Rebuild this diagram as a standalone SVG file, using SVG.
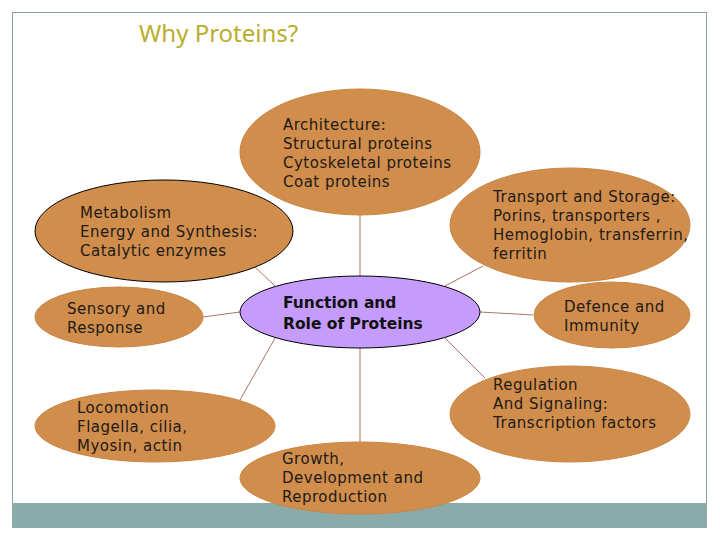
<svg xmlns="http://www.w3.org/2000/svg" width="720" height="540" viewBox="0 0 720 540">
<style>
.n{fill:#d08d4c;stroke:#c98644;stroke-width:1}
.t{font-family:"DejaVu Sans",Verdana,sans-serif;font-size:15px;fill:#1e1a18;letter-spacing:0.5px}
.b{font-family:"DejaVu Sans",Verdana,sans-serif;font-size:15.5px;font-weight:bold;fill:#111}
.c{stroke:#a57766;stroke-width:1;fill:none}
</style>
<rect x="0" y="0" width="720" height="540" fill="#fff"/>
<rect x="12.5" y="12.5" width="694" height="515" fill="#fff" stroke="#8c9ba0" stroke-width="1"/>
<rect x="12" y="503" width="695" height="25" fill="#8aabaa"/>
<text x="139" y="42" font-family="'Noto Sans','DejaVu Sans',sans-serif" font-size="24" fill="#b9ad2b">Why Proteins?</text>
<g id="connectors">
<line class="c" x1="360" y1="215" x2="360" y2="277"/>
<line class="c" x1="275" y1="286" x2="255" y2="267"/>
<line class="c" x1="240" y1="312" x2="203" y2="317"/>
<line class="c" x1="275" y1="338" x2="240" y2="400"/>
<line class="c" x1="360" y1="348" x2="360" y2="442"/>
<line class="c" x1="445" y1="286" x2="483" y2="266"/>
<line class="c" x1="480" y1="312" x2="533" y2="315"/>
<line class="c" x1="445" y1="338" x2="485" y2="378"/>
</g>
<g id="architecture">
<ellipse class="n" cx="360" cy="152" rx="120" ry="63"/>
<text class="t" x="283" y="130">Architecture:</text>
<text class="t" x="283" y="149">Structural proteins</text>
<text class="t" x="283" y="168">Cytoskeletal proteins</text>
<text class="t" x="283" y="187">Coat proteins</text>
</g>
<g id="metabolism">
<ellipse cx="164" cy="231" rx="129" ry="51" fill="#d08d4c" stroke="#000" stroke-width="1"/>
<text class="t" x="80" y="218">Metabolism</text>
<text class="t" x="80" y="237">Energy and Synthesis:</text>
<text class="t" x="80" y="256">Catalytic enzymes</text>
</g>
<g id="sensory">
<ellipse class="n" cx="119" cy="317" rx="84" ry="30"/>
<text class="t" x="67" y="314">Sensory and</text>
<text class="t" x="67" y="333">Response</text>
</g>
<g id="center">
<ellipse cx="360" cy="312" rx="120" ry="36" fill="#c59cfb" stroke="#000" stroke-width="1"/>
<text class="b" x="283" y="308">Function and</text>
<text class="b" x="283" y="329">Role of Proteins</text>
</g>
<g id="transport">
<ellipse class="n" cx="570" cy="225" rx="120" ry="57"/>
<text class="t" x="493" y="202">Transport and Storage:</text>
<text class="t" x="493" y="221">Porins, transporters ,</text>
<text class="t" x="493" y="240">Hemoglobin, transferrin,</text>
<text class="t" x="493" y="259">ferritin</text>
</g>
<g id="defence">
<ellipse class="n" cx="612" cy="315" rx="78" ry="33"/>
<text class="t" x="564" y="312">Defence and</text>
<text class="t" x="564" y="331">Immunity</text>
</g>
<g id="regulation">
<ellipse class="n" cx="570" cy="414" rx="120" ry="48"/>
<text class="t" x="493" y="390">Regulation</text>
<text class="t" x="493" y="409">And Signaling:</text>
<text class="t" x="493" y="428">Transcription factors</text>
</g>
<g id="locomotion">
<ellipse class="n" cx="155" cy="426" rx="120" ry="36"/>
<text class="t" x="77" y="413">Locomotion</text>
<text class="t" x="77" y="432">Flagella, cilia,</text>
<text class="t" x="77" y="451">Myosin, actin</text>
</g>
<g id="growth">
<ellipse class="n" cx="360" cy="478" rx="120" ry="36"/>
<text class="t" x="282" y="464">Growth,</text>
<text class="t" x="282" y="483">Development and</text>
<text class="t" x="282" y="502">Reproduction</text>
</g>
</svg>
